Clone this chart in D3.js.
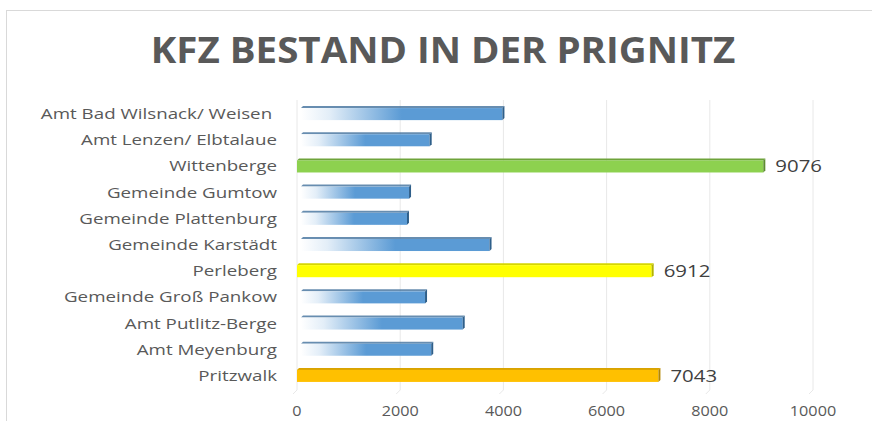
<!DOCTYPE html>
<html>
<head>
<meta charset="utf-8">
<script src="https://cdn.jsdelivr.net/npm/d3@7"></script>
<style>
  body { margin: 0; background: #fff; }
  text { font-family: "Open Sans", sans-serif; }
</style>
</head>
<body>
<div class="chart"></div>
<script>
const width = 872, height = 421;

const categories = ["Amt Bad Wilsnack/ Weisen ", "Amt Lenzen/ Elbtalaue", "Wittenberge",
    "Gemeinde Gumtow", "Gemeinde Plattenburg", "Gemeinde Karstädt", "Perleberg",
    "Gemeinde Groß Pankow", "Amt Putlitz-Berge", "Amt Meyenburg", "Pritzwalk"];
const values = [4020, 2610, 9076, 2210, 2170, 3770, 6912, 2520, 3250, 2640, 7043];
const labelled = ["Wittenberge", "Perleberg", "Pritzwalk"];
const ticks = [0, 2000, 4000, 6000, 8000, 10000];

const fills = {
    "Wittenberge": { face: "#8dd14f", top: "#6ea33a", side: "#5d8c30" },
    "Perleberg": { face: "#ffff00", top: "#d6d600", side: "#b3b300" },
    "Pritzwalk": { face: "#ffc000", top: "#d9a300", side: "#b38600" }
};

const svg = d3.select(".chart")
    .append("svg")
    .attr("width", width)
    .attr("height", height);

// gradient for the blue bars
const grad = svg.append("defs").append("linearGradient")
    .attr("id", "blue")
    .attr("x1", "0%").attr("x2", "100%");
grad.append("stop").attr("offset", "0%").attr("stop-color", "#ffffff");
grad.append("stop").attr("offset", "14%").attr("stop-color", "#e3eef8");
grad.append("stop").attr("offset", "50%").attr("stop-color", "#5b9bd5");
grad.append("stop").attr("offset", "100%").attr("stop-color", "#5b9bd5");

// frame
svg.append("rect")
    .attr("x", 6.5).attr("y", 10.5)
    .attr("width", 880).attr("height", 420)
    .attr("fill", "none")
    .attr("stroke", "#d9d9d9");

svg.append("text")
    .attr("transform", "translate(443,63) scale(1.1,1)")
    .attr("text-anchor", "middle")
    .attr("font-size", 35)
    .attr("font-weight", "bold")
    .attr("fill", "#595959")
    .text("KFZ BESTAND IN DER PRIGNITZ");

const x = d3.scaleLinear().domain([0, 10000]).range([297, 813]);
const y = d3.scaleBand().domain(categories).range([101, 389]).paddingInner(0.54).paddingOuter(0.27);

// gridlines
svg.append("g").selectAll("line")
    .data(ticks)
    .enter().append("line")
    .attr("x1", d => x(d)).attr("x2", d => x(d))
    .attr("y1", 100).attr("y2", 390)
    .attr("stroke", "#e8e8e8");

svg.append("g").selectAll("path")
    .data(ticks)
    .enter().append("path")
    .attr("d", d => `M${x(d)},390 L${x(d) - 4},394`)
    .attr("stroke", "#e8e8e8")
    .attr("fill", "none");

// axis labels
svg.append("g").selectAll("text")
    .data(ticks)
    .enter().append("text")
    .attr("transform", d => `translate(${x(d)},416) scale(1.08,1)`)
    .attr("text-anchor", "middle")
    .attr("font-size", 15)
    .attr("fill", "#595959")
    .text(d => d);

svg.append("g").selectAll("text")
    .data(categories)
    .enter().append("text")
    .attr("transform", d => `translate(277,${y(d) + y.bandwidth() / 2 + 5}) scale(1.25,1)`)
    .attr("text-anchor", "end")
    .attr("font-size", 15)
    .attr("fill", "#595959")
    .style("white-space", "pre")
    .text(d => d);

const rows = categories.map((c, i) => ({ key: c, value: values[i] }));
const d3d = 2;

const bars = svg.append("g").selectAll("g")
    .data(rows)
    .enter().append("g");

// top face
bars.append("path")
    .attr("d", d => {
        const x0 = fills[d.key] ? x(0) : x(0) + 4, x1 = x(d.value) - d3d, yy = y(d.key);
        return `M${x0},${yy} L${x0 + d3d},${yy - d3d} L${x1 + d3d},${yy - d3d} L${x1},${yy} Z`;
    })
    .attr("fill", d => fills[d.key] ? fills[d.key].top : "#41719c")
    .attr("opacity", d => fills[d.key] ? 1 : 0.8);

// front face
bars.append("rect")
    .attr("x", d => fills[d.key] ? x(0) : x(0) + 4)
    .attr("y", d => y(d.key))
    .attr("width", d => x(d.value) - d3d - (fills[d.key] ? x(0) : x(0) + 4))
    .attr("height", y.bandwidth())
    .attr("fill", d => fills[d.key] ? fills[d.key].face : "url(#blue)");

// side face
bars.append("path")
    .attr("d", d => {
        const x1 = x(d.value) - d3d, yy = y(d.key), h = y.bandwidth();
        return `M${x1},${yy} L${x1 + d3d},${yy - d3d} L${x1 + d3d},${yy + h - d3d} L${x1},${yy + h} Z`;
    })
    .attr("fill", d => fills[d.key] ? fills[d.key].side : "#2f5f8a");

svg.append("g").selectAll("text")
    .data(rows.filter(d => labelled.includes(d.key)))
    .enter().append("text")
    .attr("transform", d => `translate(${x(d.value) + 10},${y(d.key) + y.bandwidth() / 2 + 6}) scale(1.2,1)`)
    .attr("font-size", 17)
    .attr("fill", "#404040")
    .text(d => d.value);
</script>
</body>
</html>
